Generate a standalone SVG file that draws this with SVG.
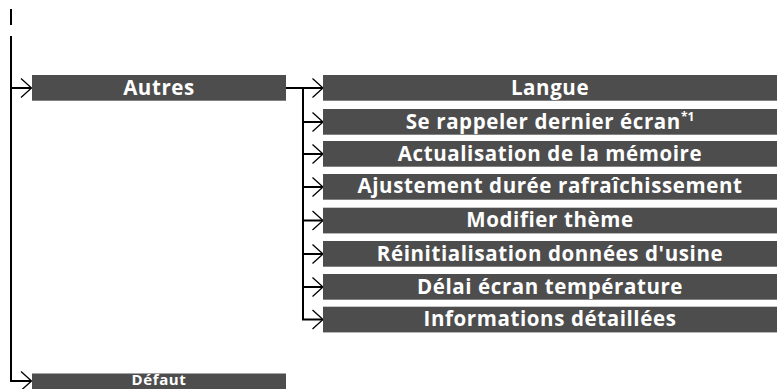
<svg xmlns="http://www.w3.org/2000/svg" width="777" height="389" viewBox="0 0 777 389">
<defs>
<style>
.box{fill:#4d4d4d}
.t{fill:#ffffff;font-family:"Open Sans","Noto Sans","Liberation Sans",sans-serif;font-weight:700;font-size:20.5px;letter-spacing:0.6px;text-anchor:middle}
.sup{font-size:12px;letter-spacing:0}
.ln{stroke:#000;stroke-width:2;fill:none}
.ch{stroke:#000;stroke-width:1.3;fill:none}
</style>
</defs>
<rect width="777" height="389" fill="#fff"/>
<g id="connectors">
<line class="ln" x1="11" y1="9" x2="11" y2="25"/>
<path class="ln" d="M11 36 V381 H31"/>
<line class="ln" x1="11" y1="88" x2="31" y2="88"/>
<path class="ch" d="M21 78.5 L31.5 88 L21 97.5"/>
<path class="ch" d="M21 371.5 L31.5 381 L21 390.5"/>
<line class="ln" x1="286" y1="88" x2="322" y2="88"/>
<line class="ln" x1="303" y1="88" x2="303" y2="320"/>
<line class="ln" x1="303" y1="122" x2="322" y2="122"/>
<line class="ln" x1="303" y1="154" x2="322" y2="154"/>
<line class="ln" x1="303" y1="187" x2="322" y2="187"/>
<line class="ln" x1="303" y1="220.5" x2="322" y2="220.5"/>
<line class="ln" x1="303" y1="254" x2="322" y2="254"/>
<line class="ln" x1="303" y1="287" x2="322" y2="287"/>
<line class="ln" x1="302" y1="319.5" x2="322" y2="319.5"/>
<path class="ch" d="M312.5 78.5 L323 88 L312.5 97.5"/>
<path class="ch" d="M312.5 112.5 L323 122 L312.5 131.5"/>
<path class="ch" d="M312.5 144.5 L323 154 L312.5 163.5"/>
<path class="ch" d="M312.5 177.5 L323 187 L312.5 196.5"/>
<path class="ch" d="M312.5 211 L323 220.5 L312.5 230"/>
<path class="ch" d="M312.5 244.5 L323 254 L312.5 263.5"/>
<path class="ch" d="M312.5 277.5 L323 287 L312.5 296.5"/>
<path class="ch" d="M312.5 310 L323 319.5 L312.5 329"/>
</g>
<g id="autres"><rect class="box" x="32" y="75" width="254" height="25.7"/><text class="t" x="159" y="94.5">Autres</text></g>
<g id="defaut"><rect class="box" x="32" y="373.5" width="254" height="15.5"/><text class="t" x="159" y="385" style="font-size:15px">Défaut</text></g>
<g id="langue"><rect class="box" x="323" y="75" width="454" height="25.7"/><text class="t" x="550" y="94.5">Langue</text></g>
<g id="rappeler"><rect class="box" x="323" y="109" width="454" height="25.7"/><text class="t" x="550" y="128.5">Se rappeler dernier écran<tspan class="sup" dy="-8">*1</tspan></text></g>
<g id="actualisation"><rect class="box" x="323" y="141" width="454" height="25.7"/><text class="t" x="550" y="160.5">Actualisation de la mémoire</text></g>
<g id="ajustement"><rect class="box" x="323" y="174" width="454" height="25.7"/><text class="t" x="550" y="193.3">Ajustement durée rafraîchissement</text></g>
<g id="theme"><rect class="box" x="323" y="207.7" width="454" height="25.7"/><text class="t" x="550" y="227.2">Modifier thème</text></g>
<g id="reinit"><rect class="box" x="323" y="241" width="454" height="25.7"/><text class="t" x="550" y="260.5">Réinitialisation données d'usine</text></g>
<g id="delai"><rect class="box" x="323" y="274" width="454" height="25.7"/><text class="t" x="550" y="293.5">Délai écran température</text></g>
<g id="infos"><rect class="box" x="323" y="306.7" width="454" height="25.7"/><text class="t" x="550" y="326.2">Informations détaillées</text></g>
</svg>
